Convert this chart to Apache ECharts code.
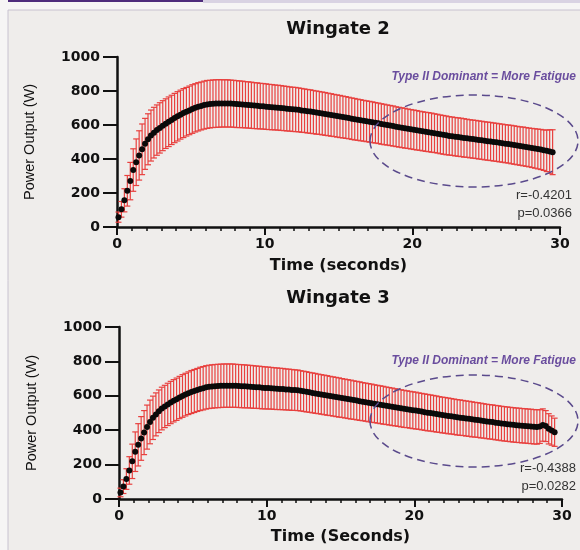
<!DOCTYPE html>
<html>
<head>
<meta charset="utf-8">
<script src="https://cdn.jsdelivr.net/npm/echarts@6/dist/echarts.min.js"></script>
<style>
  html, body { margin: 0; padding: 0; background: #f6f5f5; }
  #main { width: 580px; height: 550px; }
</style>
</head>
<body>
<div id="main"></div>
<script>
// Wingate 2, mean power (W), one value every 0.2 s starting at 0.1 s (5 per row = 1 second)
var w2Mean = [
  58, 104, 157, 213, 270,   335, 381, 421, 457, 489,   516, 538, 555, 570, 583,
  596, 608, 619, 630, 641,  651, 661, 670, 678, 686,   694, 701, 707, 712, 717,
  721, 723, 725, 726, 727,  727, 727, 727, 726, 725,   723, 722, 721, 719, 718,
  716, 714, 713, 711, 710,  708, 706, 705, 703, 702,   700, 698, 696, 694, 692,
  691, 689, 686, 684, 681,  679, 676, 673, 671, 668,   665, 662, 659, 656, 653,
  650, 647, 644, 641, 637,  634, 631, 628, 625, 622,   619, 616, 613, 610, 606,
  603, 600, 597, 594, 590,  587, 584, 581, 578, 575,   572, 569, 566, 563, 560,
  558, 555, 552, 549, 545,  542, 539, 536, 534, 531,   529, 527, 524, 522, 519,
  517, 515, 512, 510, 507,  505, 503, 500, 498, 495,   493, 490, 488, 485, 482,
  479, 476, 474, 471, 468,  465, 462, 459, 456, 452,   448, 444, 440
];
var w2Sd = [
  30, 46, 68, 90, 110,      125, 137, 145, 149, 150,   150, 150, 149, 148, 148,
  147, 146, 146, 145, 145,  145, 144, 144, 143, 143,   143, 142, 142, 141, 141,
  141, 140, 140, 140, 140,  139, 139, 139, 138, 138,   138, 137, 137, 136, 136,
  136, 135, 135, 134, 134,  134, 133, 133, 132, 132,   132, 131, 131, 130, 130,
  130, 129, 129, 128, 128,  128, 127, 127, 126, 126,   126, 125, 125, 124, 124,
  124, 123, 123, 122, 122,  122, 121, 121, 120, 120,   120, 120, 119, 119, 119,
  119, 118, 118, 118, 117,  117, 117, 117, 116, 116,   116, 116, 115, 115, 115,
  115, 115, 114, 114, 114,  114, 114, 113, 113, 113,   113, 113, 113, 112, 112,
  112, 112, 112, 112, 112,  112, 112, 112, 112, 112,   112, 112, 112, 113, 113,
  113, 113, 114, 114, 114,  115, 116, 117, 118, 119,   122, 128, 132
];
// Wingate 3
var w3Mean = [
  38, 72, 116, 166, 219,    275, 315, 352, 386, 418,   448, 472, 492, 510, 526,
  538, 550, 561, 571, 580,  590, 599, 607, 615, 622,   628, 634, 640, 644, 649,
  652, 654, 656, 657, 658,  659, 659, 659, 659, 658,   657, 656, 655, 654, 653,
  651, 650, 649, 647, 646,  645, 644, 642, 641, 640,   639, 637, 636, 634, 633,
  632, 629, 626, 623, 620,  617, 614, 611, 608, 605,   602, 599, 596, 593, 590,
  587, 584, 581, 578, 575,  572, 569, 566, 563, 560,   557, 554, 551, 548, 545,
  542, 539, 536, 533, 530,  527, 524, 522, 519, 516,   514, 511, 508, 505, 502,
  500, 497, 494, 491, 488,  486, 483, 481, 478, 475,   473, 471, 468, 466, 463,
  461, 459, 456, 454, 451,  449, 447, 444, 442, 439,   437, 435, 433, 431, 429,
  428, 426, 425, 423, 422,  420, 419, 421, 430, 424,   408, 398, 388
];
var w3Sd = [
  25, 40, 60, 80, 100,      115, 123, 127, 128, 128,   127, 126, 125, 124, 124,
  123, 123, 123, 123, 123,  123, 124, 124, 124, 125,   125, 125, 126, 126, 126,
  126, 126, 126, 126, 126,  126, 126, 126, 126, 125,   125, 125, 125, 124, 124,
  124, 123, 123, 123, 122,  122, 121, 121, 121, 120,   120, 119, 119, 119, 118,
  118, 117, 117, 117, 116,  116, 116, 115, 115, 115,   115, 114, 114, 114, 114,
  113, 113, 113, 113, 112,  112, 112, 111, 111, 111,   111, 110, 110, 110, 110,
  109, 109, 109, 108, 108,  108, 108, 107, 107, 107,   107, 106, 106, 106, 106,
  105, 105, 105, 104, 104,  104, 104, 103, 103, 103,   103, 102, 102, 102, 102,
  101, 101, 101, 100, 100,  100, 100, 100, 100, 100,   100, 100, 100, 100, 100,
  100, 100, 100, 100, 100,  100, 100, 98, 94, 90,      88, 85, 82
];
var titles = ['Wingate 2', 'Wingate 3'];
var xNames = ['Time (seconds)', 'Time (Seconds)'];
var stats = [['r=-0.4201', 'p=0.0366'], ['r=-0.4388', 'p=0.0282']];

// sample times (0.2 s step)
function times(arr) {
  return arr.map(function (_, i) { return +(0.1 + i * 0.2).toFixed(2); });
}
var w2Time = times(w2Mean);
var w3Time = times(w3Mean);

var red = '#e8403e';
var ink = '#111';
var purple = '#6a4d9e';

function errorData(t, m, sd) {
  return m.map(function (v, i) { return [t[i], v - sd[i], v + sd[i]]; });
}
function pointData(t, m) {
  return m.map(function (v, i) { return [t[i], v]; });
}

function renderBar(params, api) {
  var x = api.value(0);
  var lo = api.coord([x, api.value(1)]);
  var hi = api.coord([x, api.value(2)]);
  var w = 3;
  var st = { stroke: red, lineWidth: 1.2 };
  return {
    type: 'group',
    children: [
      { type: 'line', shape: { x1: hi[0], y1: hi[1], x2: lo[0], y2: lo[1] }, style: st },
      { type: 'line', shape: { x1: hi[0] - w, y1: hi[1], x2: hi[0] + w, y2: hi[1] }, style: st },
      { type: 'line', shape: { x1: lo[0] - w, y1: lo[1], x2: lo[0] + w, y2: lo[1] }, style: st }
    ]
  };
}

var boldFont = { fontFamily: 'DejaVu Sans', fontWeight: 'bold', color: ink };

function xAxis(i, gap) {
  return {
    type: 'value', gridIndex: i, min: 0, max: 30, interval: 10,
    name: xNames[i], nameLocation: 'middle', nameGap: gap,
    nameTextStyle: Object.assign({ fontSize: 16 }, boldFont),
    axisLine: { show: true, onZero: false, lineStyle: { color: ink, width: 2.5 } },
    axisTick: { show: true, length: 8, lineStyle: { color: ink, width: 2 } },
    minorTick: { show: true, splitNumber: 10, length: 4, lineStyle: { color: ink, width: 1.5 } },
    axisLabel: Object.assign({ margin: 10, fontSize: 14 }, boldFont),
    splitLine: { show: false }
  };
}
function yAxis(i) {
  return {
    type: 'value', gridIndex: i, min: 0, max: 1000, interval: 200,
    name: 'Power Output (W)', nameLocation: 'middle', nameRotate: 90, nameGap: 80,
    nameTextStyle: { fontFamily: 'Liberation Sans', fontSize: 14.5, color: ink },
    axisLine: { show: true, lineStyle: { color: ink, width: 2.5 } },
    axisTick: { show: true, length: 14, lineStyle: { color: ink, width: 2 } },
    axisLabel: Object.assign({ margin: 17, fontSize: 14, formatter: function (v) { return String(v); } }, boldFont),
    splitLine: { show: false }
  };
}

function notes(i, cy, textY, statY, statX) {
  return [
    { type: 'ellipse', z: 10, shape: { cx: 474, cy: cy, rx: 104, ry: 46 },
      style: { fill: 'none', stroke: '#5a4a8c', lineWidth: 1.5, lineDash: [8, 5] } },
    { type: 'text', z: 10, x: 576, y: textY,
      style: { text: 'Type II Dominant = More Fatigue', font: 'italic bold 12px "Liberation Sans"',
               fill: purple, align: 'right', verticalAlign: 'middle' } },
    { type: 'text', z: 10, x: statX, y: statY,
      style: { text: stats[i][0], font: '13px "Liberation Sans"', fill: '#333', align: 'right', verticalAlign: 'middle' } },
    { type: 'text', z: 10, x: statX, y: statY + 18,
      style: { text: stats[i][1], font: '13px "Liberation Sans"', fill: '#333', align: 'right', verticalAlign: 'middle' } }
  ];
}

var chart = echarts.init(document.getElementById('main'));
var option = {
  backgroundColor: '#f6f5f5',
  animation: false,
  title: [
    { text: titles[0], left: 338, top: 20, textAlign: 'center', padding: 0,
      textStyle: Object.assign({ fontSize: 18 }, boldFont) },
    { text: titles[1], left: 338, top: 289, textAlign: 'center', padding: 0,
      textStyle: Object.assign({ fontSize: 18 }, boldFont) }
  ],
  grid: [
    { left: 117, top: 57, width: 443, height: 170, outerBoundsMode: 'none' },
    { left: 119, top: 327, width: 443, height: 172, outerBoundsMode: 'none' }
  ],
  xAxis: [xAxis(0, 31), xAxis(1, 30)],
  yAxis: [yAxis(0), yAxis(1)],
  graphic: {
    elements: [
      { type: 'rect', z: -10, shape: { x: 8, y: 10, width: 580, height: 560 },
        style: { fill: '#efedeb', stroke: '#c8c2d0', lineWidth: 1 } },
      { type: 'rect', z: -9, shape: { x: 8, y: 0, width: 195, height: 2 }, style: { fill: '#4e2c7c' } },
      { type: 'rect', z: -9, shape: { x: 203, y: 0, width: 377, height: 3 }, style: { fill: '#d9d3e3' } }
    ].concat(notes(0, 141, 77, 195, 572), notes(1, 421, 361, 468, 576))
  },
  series: [
    { type: 'custom', xAxisIndex: 0, yAxisIndex: 0, renderItem: renderBar, z: 2, silent: true,
      data: errorData(w2Time, w2Mean, w2Sd) },
    { type: 'scatter', xAxisIndex: 0, yAxisIndex: 0, symbolSize: 6, z: 3, silent: true,
      itemStyle: { color: '#0a0a0a', opacity: 1 }, data: pointData(w2Time, w2Mean) },
    { type: 'custom', xAxisIndex: 1, yAxisIndex: 1, renderItem: renderBar, z: 2, silent: true,
      data: errorData(w3Time, w3Mean, w3Sd) },
    { type: 'scatter', xAxisIndex: 1, yAxisIndex: 1, symbolSize: 6, z: 3, silent: true,
      itemStyle: { color: '#0a0a0a', opacity: 1 }, data: pointData(w3Time, w3Mean) }
  ]
};
chart.setOption(option);
</script>
</body>
</html>
